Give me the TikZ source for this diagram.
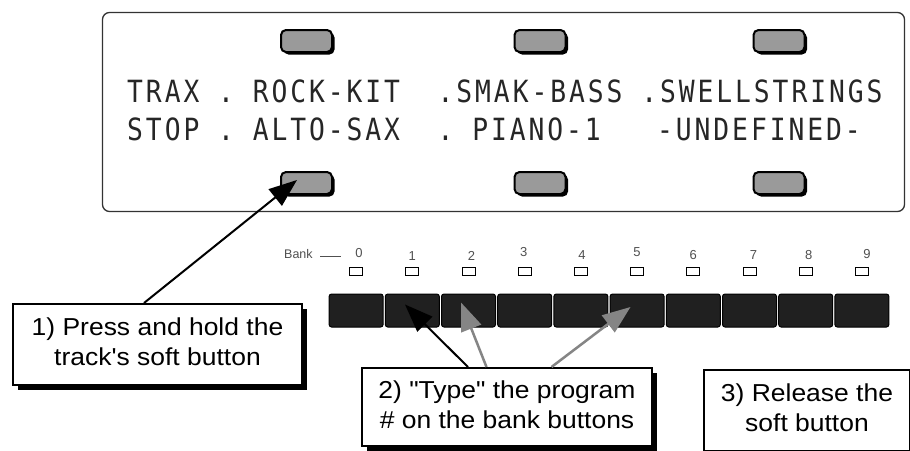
\documentclass[tikz,border=0pt]{standalone}
\usepackage{fontspec}
\setmainfont{Liberation Sans}[Ligatures=TeXOff]
\newfontfamily\lcdfont{DejaVu Sans Mono}[FakeStretch=0.86,LetterSpace=9.6]
\usetikzlibrary{arrows.meta,shadows,calc}
\definecolor{btngray}{HTML}{9A9A9A}
\definecolor{keyfill}{HTML}{202020}
\definecolor{arrgray}{HTML}{858585}
\definecolor{numgray}{HTML}{505050}
\tikzset{
  softbtn/.style={draw=black, line width=2pt, fill=btngray, rounded corners=5pt,
    minimum width=51pt, minimum height=22pt, inner sep=0pt,
    general shadow={fill=black, shadow xshift=2.5pt, shadow yshift=-2.5pt}},
  bankkey/.style={draw=black, line width=1pt, fill=keyfill, rounded corners=2.5pt,
    minimum width=54pt, minimum height=33pt, inner sep=0pt},
  ledbox/.style={draw=black, line width=0.8pt, fill=white, minimum width=13pt,
    minimum height=8pt, inner sep=0pt},
  digit/.style={font=\fontsize{13}{13}\selectfont, text=numgray, anchor=base, inner sep=0pt},
  callout/.style={draw=black, line width=2pt, fill=white, inner sep=0pt,
    font=\fontsize{24.5}{30}\selectfont},
  callshadow/.style={general shadow={fill=black, shadow xshift=5pt, shadow yshift=-5pt}},
  lcdtext/.style={font={\lcdfont\fontsize{30.6}{30.6}\selectfont}, text=black!85,
    anchor=base west, inner sep=0pt},
  blkarrow/.style={draw=black, line width=2pt, -{Triangle[length=28pt,width=21pt]}},
  gryarrow/.style={draw=arrgray, line width=2.5pt, -{Triangle[length=28pt,width=21pt]}, arrgray},
}
\newcommand{\calltext}[1]{\scalebox{1.08}[1]{\begin{tabular}{@{}c@{}}#1\end{tabular}}}
\begin{document}
\begin{tikzpicture}[x=1pt,y=-1pt]
\useasboundingbox (0,0) rectangle (910,450);
\clip (0,0) rectangle (910,450);
\fill[white] (0,0) rectangle (910,450);

% display panel
\node[draw=black!80, line width=1.3pt, rounded corners=7pt, minimum width=802pt,
  minimum height=199pt, inner sep=0pt] (disp) at (503.5,112) {};

% soft buttons
\node[softbtn] (sbt1) at (306.5,41) {};
\node[softbtn] (sbt2) at (540,41) {};
\node[softbtn] (sbt3) at (779,41) {};
\node[softbtn] (sbb1) at (306.5,183) {};
\node[softbtn] (sbb2) at (540,183) {};
\node[softbtn] (sbb3) at (779,183) {};

% LCD text
\node[lcdtext] (row1) at (127,102) {TRAX~.~ROCK-KIT~~.SMAK-BASS~.SWELLSTRINGS};
\node[lcdtext] (row2) at (127,140) {STOP~.~ALTO-SAX~~.~PIANO-1~~~-UNDEFINED-};

% bank label
\node[font=\fontsize{12.5}{12.5}\selectfont, text=numgray, anchor=base west, inner sep=0pt]
  (banklbl) at (284,258) {Bank};
\coordinate (bl1) at (320,256);
\coordinate (bl2) at (341,256);
\draw[numgray, line width=0.9pt] (bl1) -- (bl2);

% bank keys, LEDs, digits
\foreach \i/\dx/\by in {0/3/257.7,1/0/260,2/3/260,3/-1/256.7,4/1/259.5,5/0/256.7,6/0/259,7/4/259,8/3/259,9/5/258.3}{
  \node[bankkey] (k\i) at ({356.1+56.2*\i},310.5) {};
  \node[ledbox] (led\i) at ({356.1+56.2*\i},271.5) {};
  \node[digit] (d\i) at ({356.1+56.2*\i+\dx},\by) {\i};
}

% callout boxes
\node[callout, callshadow, minimum width=289pt, minimum height=81pt] (b1) at (157.5,344.5)
  {\calltext{1) Press and hold the\\track's soft button}};
\node[callout, callshadow, minimum width=290pt, minimum height=78pt] (b2) at (507,407)
  {\calltext{2) "Type" the program\\\# on the bank buttons}};
\node[callout, minimum width=206pt, minimum height=81pt] (b3) at (807,410.5)
  {\calltext{3) Release the\\soft button}};

% arrow start and tip points
\coordinate (s1) at ($(b1.north west)+(132,0)$);
\coordinate (t1) at (297,180);
\coordinate (s2) at ($(b2.north west)+(107,0)$);
\coordinate (t2) at (405,304.5);
\coordinate (s3) at ($(b2.north west)+(125.5,0)$);
\coordinate (t3) at (461,302.5);
\coordinate (s4) at ($(b2.north west)+(190.5,0)$);
\coordinate (t4) at (630.5,307);

\draw[blkarrow] (s1) -- (t1);
\draw[blkarrow] (s2) -- (t2);
\draw[gryarrow] (s3) -- (t3);
\draw[gryarrow] (s4) -- (t4);
\end{tikzpicture}
\end{document}
